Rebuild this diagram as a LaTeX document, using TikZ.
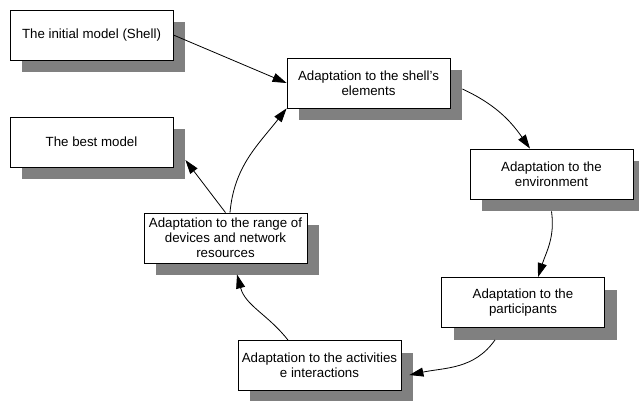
\documentclass[tikz,border=0pt]{standalone}
\usepackage{fontspec}
\setmainfont{Liberation Sans}
\usetikzlibrary{shadows,arrows.meta}
\begin{document}
\begin{tikzpicture}[x=1pt,y=1pt,
  box/.style={draw=black, line width=0.8pt, fill=white, minimum width=163pt, minimum height=50pt,
    inner sep=2pt, align=center, font=\fontsize{13.3}{15}\selectfont,
    drop shadow={shadow xshift=12pt, shadow yshift=-12pt, fill=black!50, opacity=1}},
  arr/.style={line width=0.8pt, -{Triangle[length=14pt,width=9pt]}}]
\useasboundingbox (0,0) rectangle (639,400);
\node[box] (init) at (91.5,365) {The initial model (Shell)};
\node[box] (best) at (91.5,258) {The best model};
\node[box] (shell) at (368.5,317) {Adaptation to the shell's\\elements};
\node[box] (env) at (551.5,226) {Adaptation to the\\environment};
\node[box] (part) at (523,97.5) {Adaptation to the\\participants};
\node[box] (act) at (319.5,34.5) {Adaptation to the activities\\e interactions};
\node[box] (range) at (225.5,162) {Adaptation to the range of\\devices and network\\resources};
\draw[arr] (init.east) -- (shell.west);
\draw[arr] ([xshift=4.5pt]range.north) to[out=85,in=232] (shell.south west);
\draw[arr] (range.north) -- ([xshift=12pt,yshift=-18pt]best.east);
\draw[arr] ([xshift=12pt,yshift=-6pt]shell.east) to[out=-25,in=125] ([xshift=-21.5pt]env.north);
\draw[arr] ([yshift=-12pt]env.south) to[out=-82,in=72] ([xshift=15pt]part.north);
\draw[arr] ([xshift=-28pt,yshift=-12pt]part.south) to[out=235,in=12] ([xshift=8pt,yshift=-9.5pt]act.east);
\draw[arr] ([xshift=-31.5pt]act.north) to[out=128,in=-75] ([xshift=11.5pt,yshift=-11pt]range.south);
\end{tikzpicture}
\end{document}
